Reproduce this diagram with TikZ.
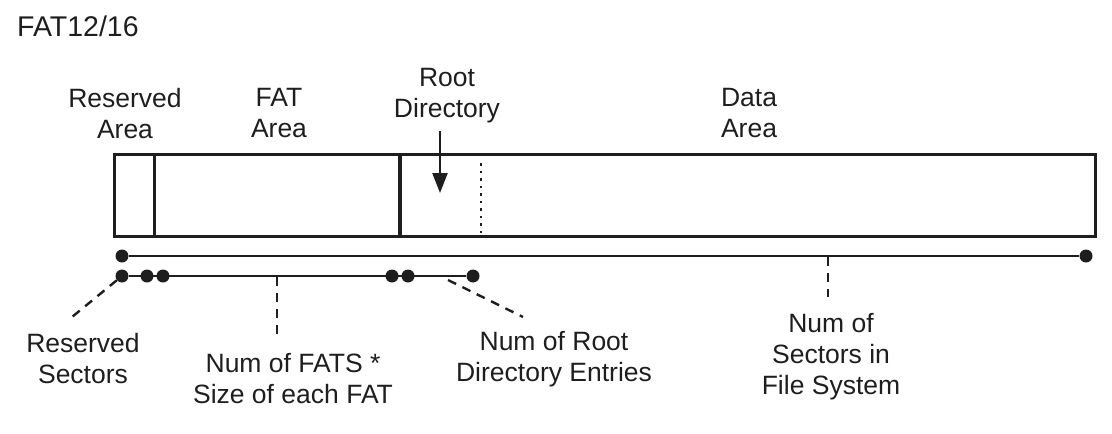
\documentclass[tikz,border=0pt]{standalone}
\usepackage{fontspec}
\setmainfont{Liberation Sans}
\usetikzlibrary{arrows.meta}
\definecolor{ink}{RGB}{30,30,30}
\begin{document}
\begin{tikzpicture}[x=1pt,y=-1pt,
  lbl/.style={font=\fontsize{26.5}{31}\selectfont, align=center, inner sep=0pt, anchor=north, text=ink},
  dotnode/.style={circle, fill=ink, inner sep=0pt, minimum size=13pt},
  frame/.style={line width=3.2pt, draw=ink},
  rule/.style={line width=2.4pt, draw=ink},
  leader/.style={line width=2.4pt, draw=ink, dash pattern=on 9pt off 7pt},
  dotline/.style={line width=2.2pt, draw=ink, dash pattern=on 2.5pt off 5pt},
  pointer/.style={line width=2.4pt, draw=ink, -{Triangle[length=20pt,width=15pt]}}]
\useasboundingbox (0,0) rectangle (1112,434);

% title
\node[lbl, anchor=north west, font=\fontsize{28.5}{33}\selectfont] (title) at (17,16) {FAT12/16};

% top labels
\node[lbl] (resArea) at (125,88) {Reserved\\Area};
\node[lbl] (fatArea) at (279,88) {FAT\\Area};
\node[lbl] (rootDir) at (447,68) {Root\\Directory};
\node[lbl] (dataArea) at (749,88) {Data\\Area};

% layout box
\node[frame, rectangle, minimum width=981pt, minimum height=82pt, inner sep=0pt, anchor=north west] (box) at (113,153) {};
\coordinate (d1t) at (154.5,153); \coordinate (d1b) at (154.5,235);
\coordinate (d2t) at (400,153); \coordinate (d2b) at (400,235);
\coordinate (d3t) at (481,163); \coordinate (d3b) at (481,235);
\draw[frame] (d1t) -- (d1b);
\draw[frame] (d2t) -- (d2b);
\draw[dotline] (d3t) -- (d3b);

% root directory arrow
\coordinate (arrS) at (440,131);
\coordinate (arrE) at (440,193);
\draw[pointer] (arrS) -- (arrE);

% extent lines
\node[dotnode] (a1) at (122,256) {};
\node[dotnode] (a2) at (1086,256) {};
\draw[rule] (a1) -- (a2);

\node[dotnode] (b1) at (122,276) {};
\node[dotnode] (b2) at (147,276) {};
\node[dotnode] (b3) at (163,276) {};
\node[dotnode] (b4) at (392,276) {};
\node[dotnode] (b5) at (408,276) {};
\node[dotnode] (b6) at (473,276) {};
\draw[rule] (b1) -- (b6);

% leaders
\coordinate (resEnd) at (72,317);
\draw[leader] (b1) -- (resEnd);
\coordinate (fatS) at (277,277);
\coordinate (fatE) at (277,338);
\draw[leader] (fatS) -- (fatE);
\coordinate (rootS) at (448,280);
\coordinate (rootE) at (523,317);
\draw[leader] (rootS) -- (rootE);
\coordinate (dataS) at (828,257);
\coordinate (dataE) at (828,297);
\draw[leader] (dataS) -- (dataE);

% bottom labels
\node[lbl] (resSec) at (83,333) {Reserved\\Sectors};
\node[lbl] (fatSize) at (293,353) {Num of FATS *\\Size of each FAT};
\node[lbl] (rootEnt) at (554,331) {Num of Root\\Directory Entries};
\node[lbl] (fsSec) at (831,313) {Num of\\Sectors in\\File System};
\end{tikzpicture}
\end{document}
